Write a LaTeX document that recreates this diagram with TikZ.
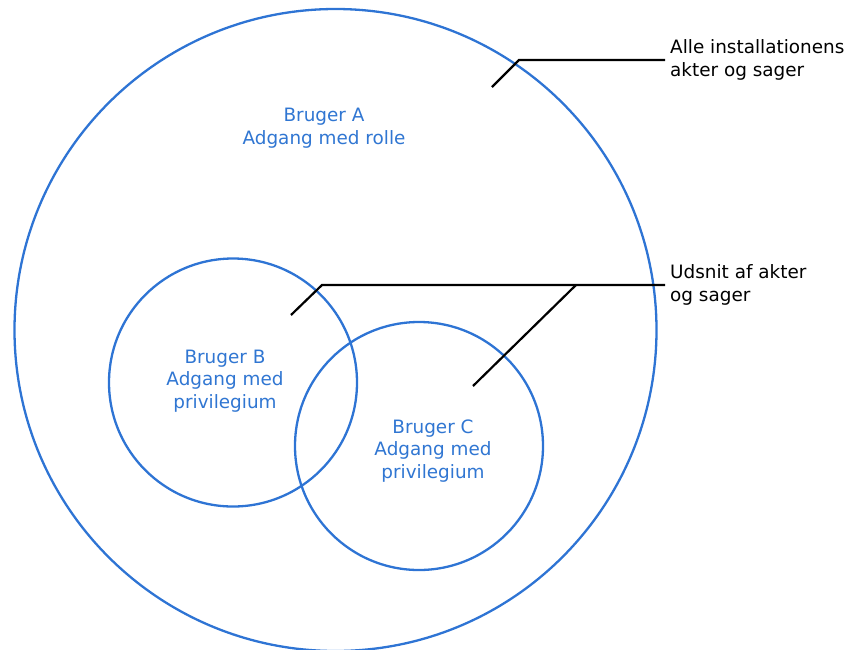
\documentclass[tikz,border=0pt]{standalone}
\usepackage{fontspec}
\setmainfont{DejaVu Sans}
\definecolor{cblue}{RGB}{46,116,212}
\definecolor{tblue}{RGB}{48,118,210}
\begin{document}
\begin{tikzpicture}[x=1pt,y=-1pt,
  ring/.style={draw=cblue,line width=2.3pt,circle,minimum size=#1,inner sep=0pt},
  btext/.style={text=tblue,align=center,font=\fontsize{18.4}{22.8}\selectfont,inner sep=0pt},
  ltext/.style={text=black,align=left,font=\fontsize{18.4}{22.8}\selectfont,inner sep=0pt,anchor=west},
  leader/.style={draw=black,line width=2.2pt}]
\useasboundingbox (0,0) rectangle (846,649);
\node[ring=642pt] (A) at (335.5,330) {};
\node[ring=248pt] (B) at (233,382.5) {};
\node[ring=248pt] (C) at (419,446) {};
\node[btext] (tA) at (324,128) {Bruger A\\Adgang med rolle};
\node[btext] (tB) at (225,381) {Bruger B\\Adgang med\\privilegium};
\node[btext] (tC) at (433,451) {Bruger C\\Adgang med\\privilegium};
\node[ltext] (l1) at (670,60) {Alle installationens\\akter og sager};
\node[ltext] (l2) at (670,285) {Udsnit af akter\\og sager};
\coordinate (p1) at (492,87);
\coordinate (k1) at (519,60);
\coordinate (p2) at (291,315);
\coordinate (k2) at (322,285);
\coordinate (p3) at (473,386);
\coordinate (k3) at (576,285);
\draw[leader] (p1) -- (k1) -- ([xshift=-5pt]l1.west);
\draw[leader] (p2) -- (k2) -- ([xshift=-5pt]l2.west);
\draw[leader] (p3) -- (k3);
\end{tikzpicture}
\end{document}
